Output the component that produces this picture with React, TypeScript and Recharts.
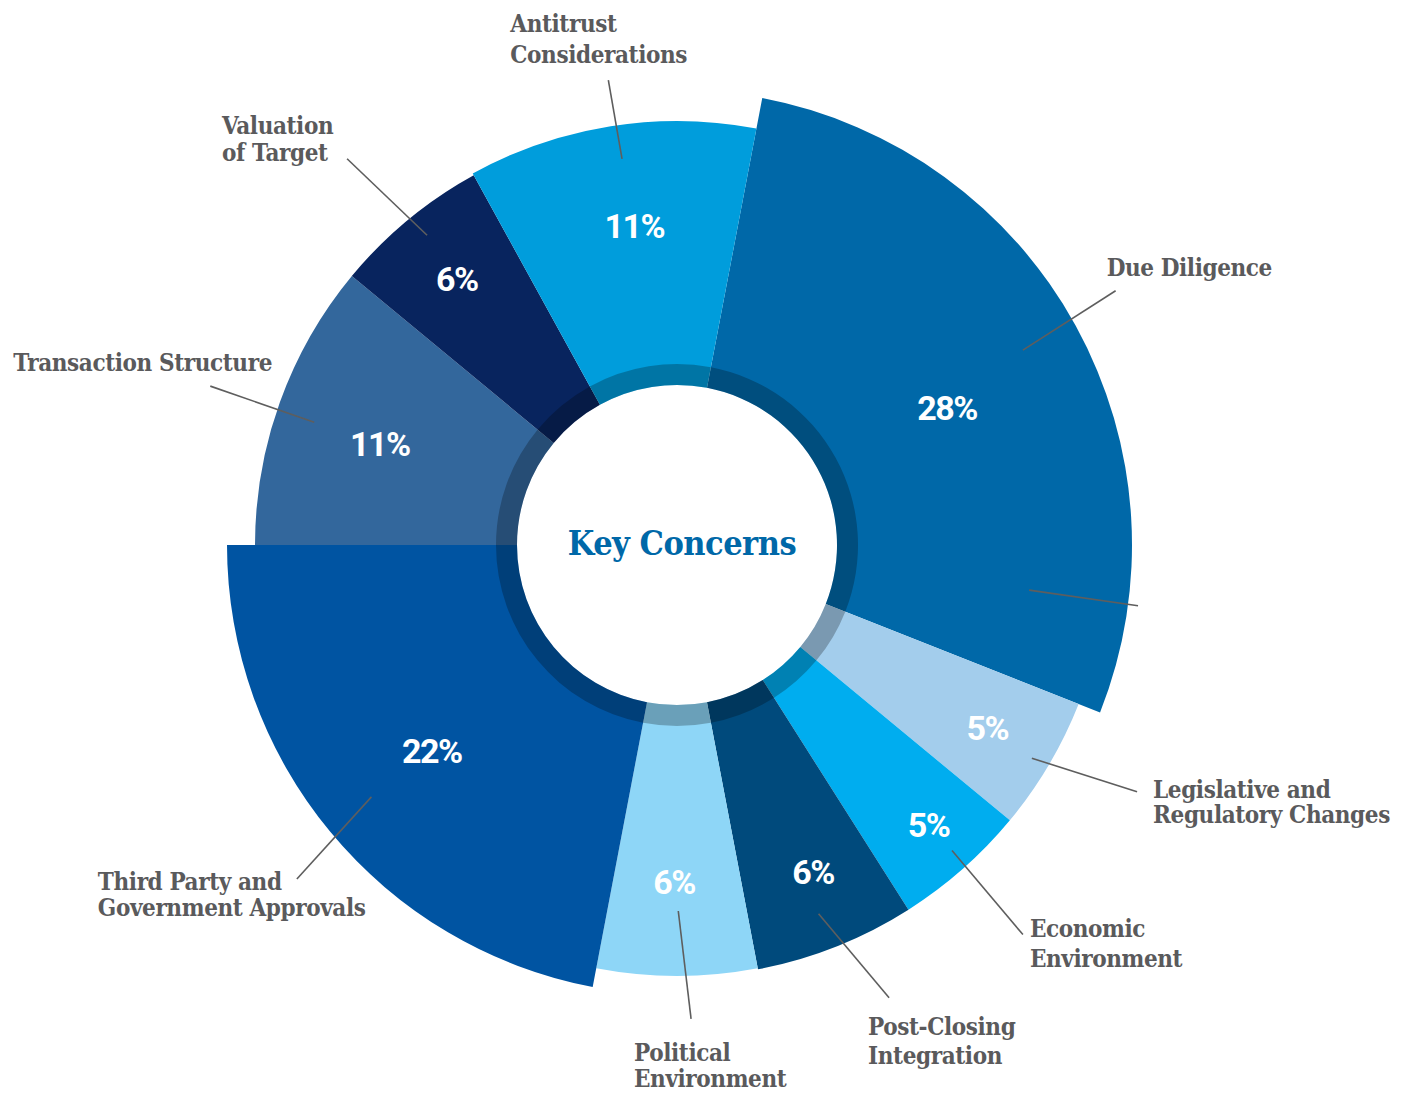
import React from "react";
import { PieChart, Pie, Cell } from "recharts";

document.body.style.margin = "0";

// ---------------------------------------------------------------------------
// Data
// ---------------------------------------------------------------------------

const categories = [
  "Due Diligence",
  "Legislative and Regulatory Changes",
  "Economic Environment",
  "Post-Closing Integration",
  "Political Environment",
  "Third Party and Government Approvals",
  "Transaction Structure",
  "Valuation of Target",
  "Antitrust Considerations",
];

const shares = [28, 5, 5, 6, 6, 22, 11, 6, 11];

const labelLines = [
  ["Due Diligence"],
  ["Legislative and", "Regulatory Changes"],
  ["Economic", "Environment"],
  ["Post-Closing", "Integration"],
  ["Political", "Environment"],
  ["Third Party and", "Government Approvals"],
  ["Transaction Structure"],
  ["Valuation", "of Target"],
  ["Antitrust", "Considerations"],
];

const colors = [
  "#0068a8",
  "#a3cdec",
  "#00adef",
  "#004a7c",
  "#8ed6f7",
  "#0054a2",
  "#33679c",
  "#08245e",
  "#009ddc",
];

// ---------------------------------------------------------------------------
// Layout (per slice, same order as categories)
// ---------------------------------------------------------------------------

const CX = 677;
const CY = 545;
const INNER_R = 160;
const RING_R = 181;
const START = 79.2;
const END = START - 360;

const OUTER_R = [455, 432, 432, 432, 431, 450, 422, 422, 424];

// percentage label: radius and angle offset (deg, clockwise) from mid angle
const PCT_POS = [
  { r: 303, d: 1.8 },
  { r: 360, d: -0.15 },
  { r: 376, d: -0.6 },
  { r: 354, d: -1.0 },
  { r: 337, d: 0.5 },
  { r: 320, d: -0.4 },
  { r: 314, d: -0.9 },
  { r: 346, d: 0.1 },
  { r: 322, d: 1.4 },
];

// leader line: angle offsets (deg, clockwise) from mid angle and radii
const LEADERS = [
  { d1: -0.6, r1: 397, d2: -1.3, r2: 507 },
  { d1: 0.4, r1: 414, d2: -2.4, r2: 522 },
  { d1: -0.6, r1: 411, d2: -0.2, r2: 521 },
  { d1: 0.6, r1: 395, d2: -3.5, r2: 500 },
  { d1: -0.2, r1: 366, d2: -1.7, r2: 474 },
  { d1: 0.1, r1: 396, d2: -1.7, r2: 506 },
  { d1: -1.1, r1: 383, d2: -1.0, r2: 493 },
  { d1: 0.7, r1: 398, d2: -0.9, r2: 508 },
  { d1: 0.9, r1: 390, d2: 0.6, r2: 470 },
];

// stray second line inside Due Diligence
const EXTRA_LINE = { index: 0, d1: 36.1, r1: 355, d2: 36.3, r2: 465 };

// label text offset from the outer end of the leader line, line spacing
const NAME_POS = [
  { dx: -9, dy: -15, gap: 0 },
  { dx: 16, dy: 6, gap: 25 },
  { dx: 7, dy: 2, gap: 30 },
  { dx: -21, dy: 37, gap: 29 },
  { dx: -57, dy: 42, gap: 26 },
  { dx: -199, dy: 11, gap: 26 },
  { dx: -197, dy: -15, gap: 0 },
  { dx: -125, dy: -25, gap: 27 },
  { dx: -98, dy: -48, gap: 31 },
];

const SLAB = "'DejaVu Serif Condensed', 'DejaVu Serif', serif";
const SANS = "Roboto, 'Noto Sans', sans-serif";
const TEXT_GREY = "#5a5a5c";
const LINE_GREY = "#5e5e5e";

const data = categories.map((name, i) => ({ name, value: shares[i] }));

// ---------------------------------------------------------------------------
// Helpers
// ---------------------------------------------------------------------------

const RAD = Math.PI / 180;

function polar(cx: number, cy: number, r: number, angle: number): [number, number] {
  return [cx + r * Math.cos(-angle * RAD), cy + r * Math.sin(-angle * RAD)];
}

function sliceIndex(p: any): number {
  const name = p?.name ?? p?.payload?.name;
  return categories.indexOf(name);
}

/** Label renderer for the pie that owns slice `own`. */
function makeLabel(own: number) {
  return function renderLabel(p: any) {
    const i = sliceIndex(p);
    if (i !== own) return null;
    const { cx, cy, midAngle } = p;
    const P = PCT_POS[i];
    const [px, py] = polar(cx, cy, P.r, midAngle - P.d);
    const L = LEADERS[i];
    const [x1, y1] = polar(cx, cy, L.r1, midAngle - L.d1);
    const [x2, y2] = polar(cx, cy, L.r2, midAngle - L.d2);
    const T = NAME_POS[i];
    const tx = x2 + T.dx;
    const ty = y2 + T.dy;

    let extra = null;
    if (EXTRA_LINE.index === i) {
      const [ex1, ey1] = polar(cx, cy, EXTRA_LINE.r1, midAngle - EXTRA_LINE.d1);
      const [ex2, ey2] = polar(cx, cy, EXTRA_LINE.r2, midAngle - EXTRA_LINE.d2);
      extra = <line x1={ex1} y1={ey1} x2={ex2} y2={ey2} stroke={LINE_GREY} strokeWidth={1.6} />;
    }

    return (
      <g key={`lbl-${i}`}>
        <line x1={x1} y1={y1} x2={x2} y2={y2} stroke={LINE_GREY} strokeWidth={1.6} />
        {extra}
        <text
          x={px}
          y={py + 12.5}
          textAnchor="middle"
          fill="#ffffff"
          fontFamily={SANS}
          fontWeight={700}
          fontSize={34}
          letterSpacing={-1.5}
        >
          {`${p.value}%`}
        </text>
        <text
          x={tx}
          y={ty}
          textAnchor="start"
          fill={TEXT_GREY}
          fontFamily={SLAB}
          fontWeight={700}
          fontSize={24}
          letterSpacing={-0.4}
        >
          {labelLines[i].map((line, k) => (
            <tspan key={k} x={tx} dy={k === 0 ? 0 : T.gap}>
              {line}
            </tspan>
          ))}
        </text>
      </g>
    );
  };
}

// ---------------------------------------------------------------------------
// Component
// ---------------------------------------------------------------------------

export default function App(): React.ReactElement {
  return (
    <div style={{ position: "relative", width: 1409, height: 1093, background: "#ffffff" }}>
      <PieChart width={1409} height={1093} margin={{ top: 0, right: 0, bottom: 0, left: 0 }}>
        {/* one pie per slice so each slice can have its own outer radius */}
        {categories.map((cat, own) => (
          <Pie
            key={cat}
            data={data}
            dataKey="value"
            nameKey="name"
            cx={CX}
            cy={CY}
            innerRadius={INNER_R}
            outerRadius={OUTER_R[own]}
            startAngle={START}
            endAngle={END}
            stroke="none"
            label={makeLabel(own)}
            labelLine={false}
            isAnimationActive={false}
          >
            {data.map((d, i) => (
              <Cell key={d.name} fill={i === own ? colors[i] : "none"} />
            ))}
          </Pie>
        ))}
        {/* darker ring round the centre */}
        <Pie
          data={data}
          dataKey="value"
          nameKey="name"
          cx={CX}
          cy={CY}
          innerRadius={INNER_R}
          outerRadius={RING_R}
          startAngle={START}
          endAngle={END}
          stroke="none"
          fill="#000000"
          fillOpacity={0.25}
          isAnimationActive={false}
        />
      </PieChart>
      <div
        style={{
          position: "absolute",
          left: CX - 160 + 5,
          top: CY - 22,
          width: 320,
          textAlign: "center",
          fontFamily: SLAB,
          fontWeight: 700,
          fontSize: 34,
          letterSpacing: -0.5,
          color: "#0068a8",
          lineHeight: "40px",
          pointerEvents: "none",
        }}
      >
        Key Concerns
      </div>
    </div>
  );
}
